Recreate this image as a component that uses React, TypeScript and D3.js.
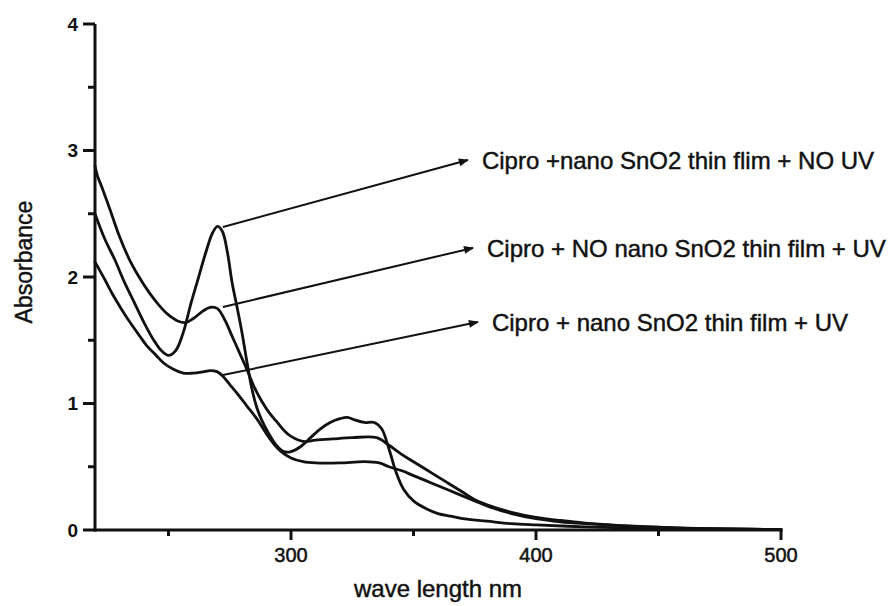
import React from 'react';
import * as d3 from 'd3';

// spectra: [wavelength nm, absorbance]
const noUV: [number, number][] = [
  [220, 2.5], [224, 2.3], [228, 2.14], [232, 1.96], [236, 1.8], [240, 1.64], [244, 1.5],
  [247, 1.42], [250, 1.38], [253, 1.42], [256, 1.56], [259, 1.78], [262, 1.98], [265, 2.18],
  [268, 2.35], [270, 2.4], [272, 2.36], [274, 2.2], [276, 1.95], [278, 1.76], [280, 1.56],
  [282, 1.33], [284, 1.12], [286, 0.97], [288, 0.87], [291, 0.76], [294, 0.67], [297, 0.62],
  [300, 0.62], [304, 0.66], [308, 0.73], [312, 0.8], [316, 0.85], [320, 0.88], [323, 0.89],
  [326, 0.87], [330, 0.85], [334, 0.85], [337, 0.8], [340, 0.64], [343, 0.45], [346, 0.32],
  [350, 0.23], [355, 0.17], [360, 0.13], [365, 0.11], [370, 0.09], [380, 0.07], [390, 0.05],
  [400, 0.04], [420, 0.025], [440, 0.015], [460, 0.01], [480, 0.005], [500, 0.003],
];

const noNanoUV: [number, number][] = [
  [220, 2.88], [221, 2.8], [223, 2.7], [226, 2.54], [230, 2.32], [234, 2.14], [238, 2.0],
  [242, 1.88], [246, 1.78], [250, 1.7], [254, 1.65], [257, 1.64], [260, 1.67], [264, 1.73],
  [267, 1.76], [270, 1.75], [273, 1.66], [276, 1.53], [279, 1.4], [282, 1.27], [285, 1.13],
  [288, 1.02], [291, 0.93], [294, 0.86], [297, 0.79], [300, 0.74], [305, 0.7], [310, 0.71],
  [317, 0.72], [325, 0.73], [335, 0.73], [340, 0.67], [345, 0.6], [350, 0.54], [355, 0.48],
  [360, 0.42], [365, 0.36], [370, 0.3], [375, 0.24], [380, 0.2], [390, 0.14], [400, 0.1],
  [410, 0.075], [420, 0.055], [440, 0.03], [460, 0.015], [480, 0.008], [500, 0.004],
];

const nanoUV: [number, number][] = [
  [220, 2.12], [224, 1.98], [227, 1.87], [231, 1.74], [234, 1.65], [238, 1.54], [241, 1.46],
  [245, 1.38], [248, 1.32], [252, 1.27], [256, 1.24], [260, 1.24], [264, 1.25], [267, 1.26],
  [270, 1.25], [272, 1.22], [275, 1.15], [278, 1.08], [282, 0.98], [286, 0.88], [290, 0.76],
  [293, 0.68], [296, 0.62], [300, 0.57], [305, 0.54], [310, 0.53], [320, 0.53], [330, 0.54],
  [336, 0.53], [340, 0.5], [345, 0.47], [350, 0.43], [355, 0.39], [360, 0.35], [365, 0.31],
  [370, 0.27], [375, 0.23], [380, 0.19], [390, 0.13], [400, 0.09], [410, 0.065], [420, 0.05],
  [440, 0.028], [460, 0.015], [480, 0.008], [500, 0.004],
];

const seriesList = [noUV, noNanoUV, nanoUV];

const labelTexts = [
  'Cipro +nano SnO2 thin flim + NO UV',
  'Cipro + NO nano SnO2 thin film + UV',
  'Cipro + nano SnO2 thin film + UV',
];
// arrow from the curve to the label, in data units
const arrowFrom: [number, number][] = [[272.2, 2.395], [272.2, 1.763], [272.2, 1.225]];
const arrowTo: [number, number][] = [[372.2, 2.925], [374.3, 2.23], [376.3, 1.644]];

const xMajor = [300, 400, 500];
const xMinor = [250, 350, 450];
const yMajor = [0, 1, 2, 3, 4];
const yMinor = [0.5, 1.5, 2.5, 3.5];

const W = 894, H = 606;
const font = '"Liberation Sans", Arial, sans-serif';

export default function App() {
  const x = d3.scaleLinear().domain([220, 500]).range([95, 781]);
  const y = d3.scaleLinear().domain([0, 4]).range([530, 24]);

  const line = d3.line<[number, number]>()
    .x(d => x(d[0]))
    .y(d => y(d[1]))
    .curve(d3.curveCatmullRom.alpha(0.5));

  return (
    <svg width={W} height={H} style={{position: 'absolute', left: 0, top: 0, background: '#fff'}}>
      <defs>
        <marker id="head" viewBox="0 0 10 10" refX="9" refY="5" markerWidth="7" markerHeight="5"
                markerUnits="strokeWidth" orient="auto">
          <path d="M0,1 L10,5 L0,9 z" fill="#111"/>
        </marker>
      </defs>

      {seriesList.map((s, i) => (
        <path key={i} d={line(s) || ''} fill="none" stroke="#111" strokeWidth={2.8}
              strokeLinejoin="round" strokeLinecap="round"/>
      ))}

      {/* axes */}
      <g stroke="#111" strokeWidth={3}>
        <line x1={x(220)} x2={x(220)} y1={y(4)} y2={y(0) + 1.5}/>
        <line x1={x(220) - 1.5} x2={x(500) + 1.5} y1={y(0)} y2={y(0)}/>
        {yMajor.map(v => <line key={'ym' + v} x1={x(220) - 12} x2={x(220)} y1={y(v)} y2={y(v)}/>)}
        {yMinor.map(v => <line key={'yn' + v} x1={x(220) - 7} x2={x(220)} y1={y(v)} y2={y(v)}/>)}
        {xMajor.map(v => <line key={'xm' + v} x1={x(v)} x2={x(v)} y1={y(0)} y2={y(0) + 10}/>)}
        {xMinor.map(v => <line key={'xn' + v} x1={x(v)} x2={x(v)} y1={y(0)} y2={y(0) + 6}/>)}
      </g>

      <g fontFamily={font} fontSize={19} fontWeight="bold" fill="#111">
        {yMajor.map(v => (
          <text key={v} x={78} y={y(v)} dy="0.35em" textAnchor="end">{v}</text>
        ))}
      </g>
      <g fontFamily={font} fontSize={20} fill="#111" stroke="#111" strokeWidth={0.5}>
        {xMajor.map(v => (
          <text key={v} x={x(v)} y={562} textAnchor="middle">{v}</text>
        ))}
      </g>

      <g fontFamily={font} fill="#111" stroke="#111" strokeWidth={0.45}>
        <text x={438} y={597} textAnchor="middle" fontSize={24}>wave length nm</text>
        <text transform="translate(32,262) rotate(-90)" textAnchor="middle" fontSize={23}>Absorbance</text>
      </g>

      {labelTexts.map((t, i) => (
        <g key={i}>
          <line x1={x(arrowFrom[i][0])} y1={y(arrowFrom[i][1])}
                x2={x(arrowTo[i][0])} y2={y(arrowTo[i][1])}
                stroke="#111" strokeWidth={2} markerEnd="url(#head)"/>
          <text x={x(arrowTo[i][0]) + 14} y={y(arrowTo[i][1])} dy="0.36em" fontFamily={font}
                fontSize={24} fill="#111" stroke="#111" strokeWidth={0.45}>{t}</text>
        </g>
      ))}
    </svg>
  );
}
